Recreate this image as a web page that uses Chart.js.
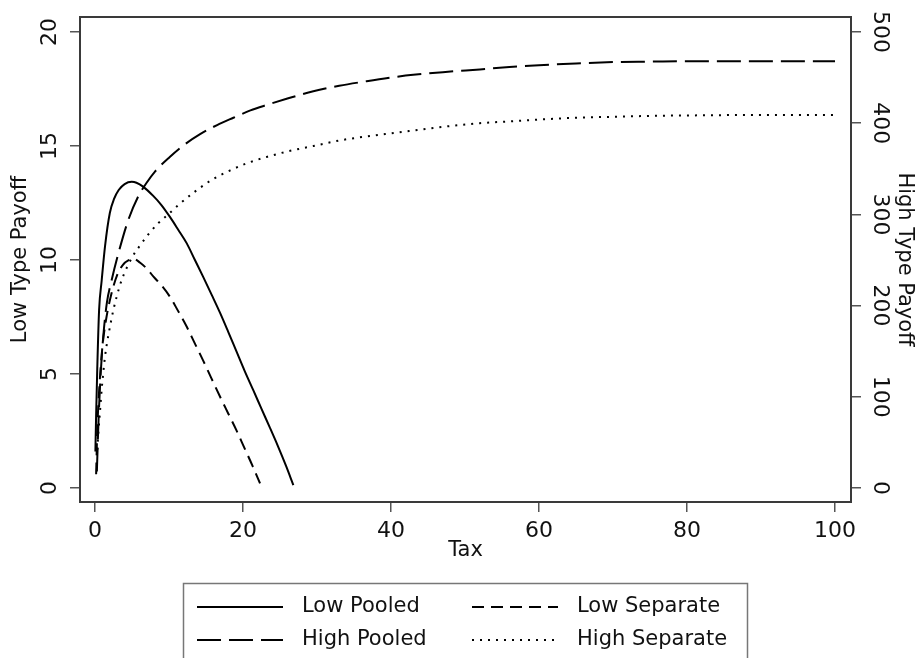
<!DOCTYPE html>
<html><head><meta charset="utf-8">
<script src="https://cdn.jsdelivr.net/npm/chart.js@4.4.1/dist/chart.umd.min.js"></script>
<style>html,body{margin:0;padding:0;background:#fff;}canvas{display:block;}</style>
</head><body>
<canvas id="c" width="923" height="658"></canvas>
<script>
const taxLowPooled = [0.05,0.15,0.3,0.55,0.9,1.35,2.0,2.6,3.2,4.0,4.96,5.6,6.5,7.9,9.0,10.1,11.2,12.4,13.5,14.6,15.8,16.9,18.0,19.1,20.2,21.4,22.5,23.6,24.7,25.8,26.8];
const lowPooled    = [1.6,3.2,5.2,7.8,9.1,10.6,12.06,12.7,13.07,13.33,13.43,13.39,13.22,12.8,12.4,11.9,11.35,10.73,10.0,9.27,8.45,7.68,6.85,6.0,5.15,4.28,3.47,2.67,1.85,0.98,0.13];

const taxLowSep   = [0.15,0.3,0.6,1.0,1.5,2.2,3.0,3.8,4.5,5.2,6.1,7.0,7.9,9.0,10.1,11.2,12.4,13.5,14.6,15.7,16.9,18.0,19.1,20.2,21.3,22.3];
const lowSeparate = [0.6,2.5,4.5,6.2,7.4,8.5,9.35,9.8,9.98,10.05,9.88,9.62,9.27,8.88,8.4,7.78,7.07,6.33,5.6,4.83,4.0,3.27,2.54,1.75,0.96,0.2];

const taxHighPooled = [0.25,0.5,0.8,1.1,1.6,2.25,3.15,4.5,5.85,7.0,8.1,10.1,12,14.2,16.5,18.7,21,23.2,26,29.5,33,36.7,40,43,47,52,56,60,65,70,75,80,90,100];
const highPooled    = [18,80,130,165,203,228,257,294,320,335,347,363,376,388,398,406,414,420,427,435,441,446,450,453,456,459,461.5,463.5,465.5,467,467.5,468,468,468];

const taxHighSep   = [0.3,0.45,0.68,0.9,1.12,1.35,1.6,2.0,2.5,2.9,3.6,4.95,6.0,7.2,8.5,9.9,11.5,13.5,15.8,18.2,20.5,23.2,26,29.5,33,36.2,40,43,47,52,56,60,65,70,75,80,90,100];
const highSeparate = [42,60,85,108,127,144,158,176,196,209,228,252,265,278,290,300,312,325,338,348,356,363,369,375,381,385,389,392,396,400,402,404,406,407,408,408.5,409,409];

const xTicks = [0,20,40,60,80,100];
const leftTicks = [0,5,10,15,20];
const rightTicks = [0,100,200,300,400,500];
const seriesLabels = ['Low Pooled','Low Separate','High Pooled','High Separate'];
const xTitle = 'Tax', leftTitle = 'Low Type Payoff', rightTitle = 'High Type Payoff';

function pts(xs, ys){ return xs.map((x,i)=>({x:x, y:ys[i]})); }

const FONT = '"DejaVu Sans", sans-serif';
const INK = '#111';
const FRAME = '#3a3a3a';

const decor = {
  id:'decor',
  afterDraw(chart){
    const {ctx, chartArea:a, scales} = chart;
    ctx.save();
    ctx.strokeStyle = FRAME; ctx.lineWidth = 2;
    ctx.strokeRect(a.left, a.top, a.right-a.left, a.bottom-a.top);
    ctx.fillStyle = INK;
    ctx.font = '22px ' + FONT;
    ctx.textAlign = 'center'; ctx.textBaseline = 'middle';
    leftTicks.forEach(v=>{
      const y = scales.y.getPixelForValue(v);
      ctx.save(); ctx.translate(a.left-30, y); ctx.rotate(-Math.PI/2); ctx.fillText(String(v),0,0); ctx.restore();
    });
    rightTicks.forEach(v=>{
      const y = scales.y1.getPixelForValue(v);
      ctx.save(); ctx.translate(a.right+29, y); ctx.rotate(Math.PI/2); ctx.fillText(String(v),0,0); ctx.restore();
    });
    // legend
    const bx = 183.5, by = 583.5, bw = 564, bh = 100;
    ctx.strokeStyle = '#777'; ctx.lineWidth = 1.5;
    ctx.strokeRect(bx, by, bw, bh);
    const colX = [197, 472], rowY = [607, 640], lineLen = 86;
    const order = [[0,0,0],[1,1,0],[2,0,1],[3,1,1]];
    ctx.font = '21px ' + FONT; ctx.textAlign = 'left';
    order.forEach(([di,c,r])=>{
      const ds = chart.data.datasets[di];
      ctx.save();
      ctx.strokeStyle = '#000'; ctx.lineWidth = 2;
      ctx.setLineDash(ds.borderDash || []);
      ctx.beginPath(); ctx.moveTo(colX[c], rowY[r]); ctx.lineTo(colX[c]+lineLen, rowY[r]); ctx.stroke();
      ctx.restore();
      ctx.fillStyle = INK;
      ctx.fillText(ds.label, colX[c]+lineLen+19, rowY[r]);
    });
    ctx.restore();
  }
};

const tickGrid = {display:true, drawOnChartArea:false, drawTicks:true, tickLength:10, color:'#555', lineWidth:1.5};

new Chart(document.getElementById('c'), {
  type:'line',
  data:{ datasets:[
    {label:seriesLabels[0], data:pts(taxLowPooled,lowPooled), yAxisID:'y', borderColor:'#000', borderDash:[]},
    {label:seriesLabels[1], data:pts(taxLowSep,lowSeparate), yAxisID:'y', borderColor:'#000', borderDash:[12,7]},
    {label:seriesLabels[2], data:pts(taxHighPooled,highPooled), yAxisID:'y1', borderColor:'#000', borderDash:[24,8]},
    {label:seriesLabels[3], data:pts(taxHighSep,highSeparate), yAxisID:'y1', borderColor:'#000', borderDash:[2,6]}
  ]},
  options:{
    responsive:false, animation:false, devicePixelRatio:1,
    datasets:{ line:{ borderWidth:2, pointRadius:0, cubicInterpolationMode:'monotone', fill:false } },
    layout:{ padding:{top:17, bottom:86, left:0, right:0} },
    plugins:{ legend:{display:false}, tooltip:{enabled:false} },
    scales:{
      x:{ type:'linear', position:'bottom', min:-2.03, max:102.16,
          afterBuildTicks:s=>{ s.ticks = xTicks.map(v=>({value:v})); },
          afterFit:s=>{ s.height = 70; },
          grid:tickGrid, border:{display:false},
          ticks:{color:INK, font:{family:FONT,size:22}, padding:6, maxRotation:0, autoSkip:false},
          title:{display:true, text:xTitle, color:INK, font:{family:FONT,size:21}, padding:{top:0,bottom:9}} },
      y:{ type:'linear', position:'left', min:-0.614, max:20.658,
          afterBuildTicks:s=>{ s.ticks = leftTicks.map(v=>({value:v})); },
          afterFit:s=>{ s.width = 80; },
          grid:tickGrid, border:{display:false},
          ticks:{display:false},
          title:{display:true, text:leftTitle, color:INK, font:{family:FONT,size:21}, padding:{top:8,bottom:0}} },
      y1:{ type:'linear', position:'right', min:-15.35, max:516.45,
          afterBuildTicks:s=>{ s.ticks = rightTicks.map(v=>({value:v})); },
          afterFit:s=>{ s.width = 72; },
          grid:tickGrid, border:{display:false},
          ticks:{display:false},
          title:{display:true, text:rightTitle, color:INK, font:{family:FONT,size:21}, padding:{top:6,bottom:0}} }
    }
  },
  plugins:[decor]
});
</script>
</body></html>
